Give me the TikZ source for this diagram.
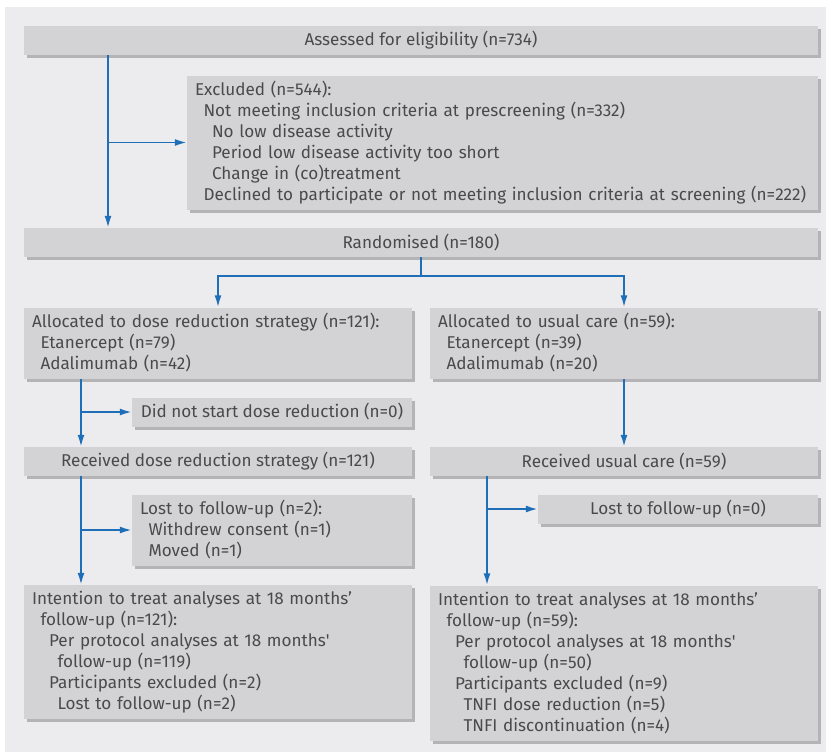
\documentclass[tikz,border=0pt]{standalone}
\usepackage{fontspec}
\setmainfont{Fira Sans}
\usepackage{tikz}
\usetikzlibrary{positioning, arrows.meta, shadows}
\definecolor{bggrey}{HTML}{ECECEE}
\definecolor{boxgrey}{HTML}{D3D3D5}
\definecolor{shadegrey}{HTML}{B4B4B7}
\definecolor{txtgrey}{HTML}{4A4A4C}
\definecolor{arrowblue}{HTML}{1F6FB8}
\newcommand{\ind}{\hspace*{8.5pt}}

\begin{document}
\begin{tikzpicture}[x=1pt, y=-1pt,
    box/.style={fill=boxgrey, text=txtgrey, inner sep=0pt, font=\fontsize{17.1}{21}\selectfont,
      drop shadow={shadow xshift=3pt, shadow yshift=-3pt, fill=shadegrey, opacity=1}},
    listbox/.style={box, align=left},
    arr/.style={draw=arrowblue, line width=1.8pt, arrows={-Latex[width=7pt, length=12pt]}},
    line/.style={draw=arrowblue, line width=1.8pt}]

    \useasboundingbox (0,0) rectangle (826,752);
    \fill[white] (0,0) rectangle (826,752);
    \fill[bggrey] (5,7) rectangle (826,752);

    \node[box, minimum width=794pt, minimum height=29pt] at (421,40.5) (assessed) {Assessed for eligibility (n=734)};
    \node[listbox, text width=615pt, minimum width=631pt, minimum height=134pt] at (502.5,142.5) (excluded) {Excluded (n=544):\\
      \ind Not meeting inclusion criteria at prescreening (n=332)\\
      \ind\ind No low disease activity\\
      \ind\ind Period low disease activity too short\\
      \ind\ind Change in (co)treatment\\
      \ind Declined to participate or not meeting inclusion criteria at screening (n=222)};
    \node[box, minimum width=794pt, minimum height=29pt] at (421,242.5) (randomised) {Randomised (n=180)};

    \node[listbox, text width=372pt, minimum width=388pt, minimum height=71pt] at (218,343) (dose) {Allocated to dose reduction strategy (n=121):\\
      \ind Etanercept (n=79)\\
      \ind Adalimumab (n=42)};
    \node[listbox, text width=372pt, minimum width=388pt, minimum height=71pt] at (624,343) (usual) {Allocated to usual care (n=59):\\
      \ind Etanercept (n=39)\\
      \ind Adalimumab (n=20)};

    \node[box, minimum width=280pt, minimum height=29pt] at (272,412) (nostart) {Did not start dose reduction (n=0)};
    \node[box, minimum width=388pt, minimum height=29pt] at (218,461.5) (recdose) {Received dose reduction strategy (n=121)};
    \node[box, minimum width=388pt, minimum height=29pt] at (624,461.5) (recusual) {Received usual care (n=59)};

    \node[listbox, text width=264pt, minimum width=280pt, minimum height=71pt] at (272,530) (lost2) {Lost to follow-up (n=2):\\
      \ind Withdrew consent (n=1)\\
      \ind Moved (n=1)};
    \node[box, minimum width=280pt, minimum height=29pt] at (678,509) (lost0) {Lost to follow-up (n=0)};

    \node[listbox, text width=372pt, minimum width=388pt, minimum height=134pt] at (218,652) (ittdose) {Intention to treat analyses at 18 months’\\
      \ind follow-up (n=121):\\
      \ind\ind Per protocol analyses at 18 months\textquotesingle\\
      \ind\ind\ind follow-up (n=119)\\
      \ind\ind Participants excluded (n=2)\\
      \ind\ind\ind Lost to follow-up (n=2)};
    \node[listbox, text width=372pt, minimum width=388pt, minimum height=155pt] at (624,663) (ittusual) {Intention to treat analyses at 18 months’\\
      \ind follow-up (n=59):\\
      \ind\ind Per protocol analyses at 18 months\textquotesingle\\
      \ind\ind\ind follow-up (n=50)\\
      \ind\ind Participants excluded (n=9)\\
      \ind\ind\ind TNFI dose reduction (n=5)\\
      \ind\ind\ind TNFI discontinuation (n=4)};

    % trunks
    \coordinate (t1) at (108,0);
    \coordinate (t2) at (81,0);
    \coordinate (t3) at (487,0);
    \coordinate (split) at (421,276);

    \draw[arr] (t1 |- assessed.south) -- (t1 |- randomised.north);
    \draw[arr] (t1 |- excluded.west) -- (excluded.west);

    \draw[line] (randomised.south) -- (split);
    \draw[arr] (split) -| (dose.north);
    \draw[arr] (split) -| (usual.north);

    \draw[arr] (t2 |- dose.south) -- (t2 |- recdose.north);
    \draw[arr] (t2 |- nostart.west) -- (nostart.west);
    \draw[arr] (usual) -- (recusual);

    \draw[arr] (t2 |- recdose.south) -- (t2 |- ittdose.north);
    \draw[arr] (t2 |- lost2.west) -- (lost2.west);
    \draw[arr] (t3 |- recusual.south) -- (t3 |- ittusual.north);
    \draw[arr] (t3 |- lost0.west) -- (lost0.west);
  \end{tikzpicture}
\end{document}
